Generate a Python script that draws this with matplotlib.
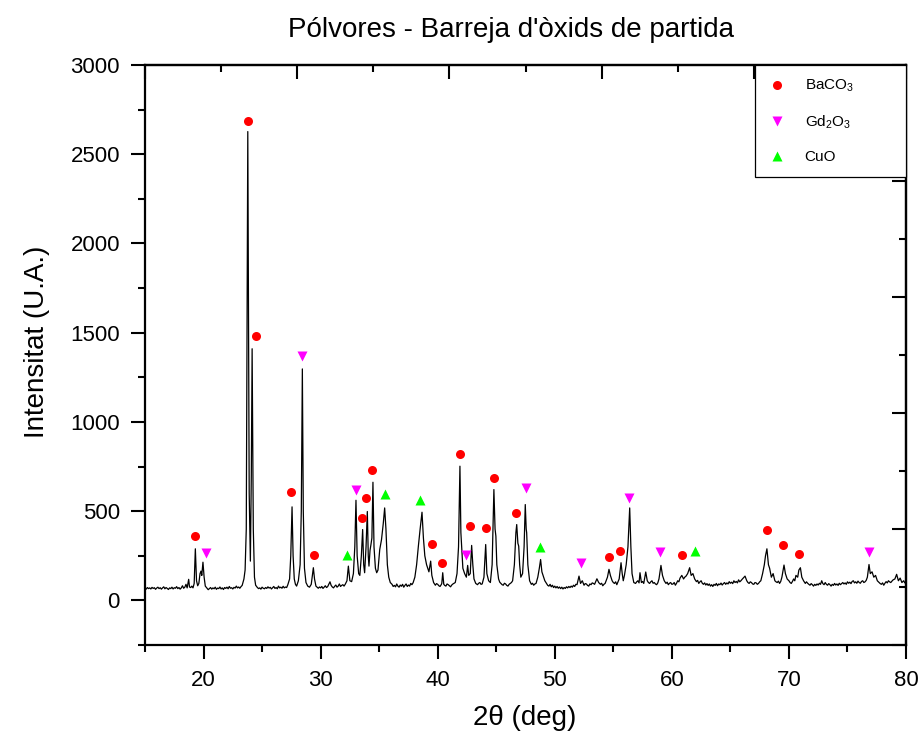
import matplotlib
matplotlib.use("Agg")
import matplotlib.pyplot as plt
from matplotlib.lines import Line2D
import numpy as np

plt.rcParams['font.family'] = ['Liberation Sans', 'DejaVu Sans']
plt.rcParams['mathtext.fontset'] = 'custom'
plt.rcParams['mathtext.rm'] = 'Liberation Sans'
plt.rcParams['mathtext.it'] = 'Liberation Sans:italic'
plt.rcParams['mathtext.bf'] = 'Liberation Sans:bold'

# Diffractogram, (2-theta [deg], intensity [a.u.]) pairs, split by angular range
scan_15_30 = [
    (15.0, 68), (15.1, 63), (15.2, 72), (15.3, 66), (15.4, 70), (15.5, 64), (15.6, 73),
    (15.7, 67), (15.8, 71), (15.9, 62), (16.0, 69), (16.1, 74), (16.2, 66), (16.3, 71),
    (16.4, 63), (16.5, 70), (16.6, 76), (16.7, 65), (16.8, 72), (16.9, 67), (17.0, 61),
    (17.1, 70), (17.2, 66), (17.3, 74), (17.4, 64), (17.5, 71), (17.6, 68), (17.7, 77),
    (17.8, 66), (17.9, 72), (18.0, 63), (18.1, 70), (18.2, 82), (18.3, 68), (18.4, 74),
    (18.5, 90), (18.6, 70), (18.73, 118), (18.8, 75), (18.9, 72), (19.0, 80), (19.1, 70),
    (19.2, 95), (19.3, 289), (19.4, 110), (19.5, 82), (19.6, 95), (19.7, 150), (19.78, 164),
    (19.85, 140), (19.95, 214), (20.05, 130), (20.15, 80), (20.3, 68), (20.4, 60), (20.5, 66),
    (20.6, 72), (20.7, 63), (20.8, 70), (20.9, 65), (21.0, 74), (21.1, 62), (21.2, 69),
    (21.3, 66), (21.4, 75), (21.5, 64), (21.6, 70), (21.7, 61), (21.8, 72), (21.9, 67),
    (22.0, 74), (22.1, 65), (22.2, 78), (22.3, 68), (22.4, 71), (22.5, 64), (22.6, 73),
    (22.7, 69), (22.8, 80), (22.9, 70), (23.0, 75), (23.1, 68), (23.2, 77), (23.3, 84),
    (23.45, 120), (23.55, 170), (23.65, 400), (23.78, 2627), (23.9, 600), (24.0, 220),
    (24.08, 700), (24.15, 1410), (24.25, 400), (24.35, 130), (24.45, 85), (24.6, 72),
    (24.7, 66), (24.8, 70), (24.9, 63), (25.0, 74), (25.1, 68), (25.2, 65), (25.3, 72),
    (25.4, 67), (25.5, 76), (25.6, 69), (25.7, 73), (25.8, 64), (25.9, 71), (26.0, 78),
    (26.1, 67), (26.2, 72), (26.3, 65), (26.4, 80), (26.5, 70), (26.6, 74), (26.7, 68),
    (26.8, 79), (26.9, 70), (27.0, 75), (27.1, 72), (27.2, 88), (27.35, 120), (27.45, 250),
    (27.56, 524), (27.65, 250), (27.75, 120), (27.85, 90), (27.95, 80), (28.1, 110),
    (28.25, 200), (28.35, 500), (28.44, 1297), (28.52, 500), (28.62, 180), (28.75, 100),
    (28.9, 80), (29.05, 74), (29.2, 90), (29.3, 140), (29.38, 183), (29.48, 120), (29.6, 80),
    (29.7, 74), (29.8, 68), (29.9, 75),
]
scan_30_50 = [
    (30.0, 70), (30.1, 78), (30.2, 67), (30.3, 74), (30.4, 82), (30.5, 72), (30.6, 77),
    (30.7, 90), (30.8, 104), (30.9, 84), (31.0, 75), (31.1, 70), (31.2, 79), (31.3, 86),
    (31.4, 74), (31.5, 80), (31.6, 92), (31.7, 78), (31.8, 84), (31.9, 88), (32.0, 80),
    (32.1, 90), (32.25, 110), (32.37, 192), (32.5, 110), (32.65, 105), (32.8, 150),
    (32.92, 300), (33.02, 561), (33.12, 250), (33.25, 150), (33.35, 140), (33.48, 250),
    (33.59, 397), (33.68, 200), (33.76, 155), (33.88, 300), (33.99, 498), (34.07, 250),
    (34.13, 192), (34.22, 280), (34.3, 313), (34.38, 350), (34.47, 662), (34.56, 300),
    (34.68, 180), (34.79, 155), (34.9, 170), (35.05, 285), (35.2, 340), (35.35, 430),
    (35.47, 518), (35.58, 400), (35.7, 200), (35.82, 130), (35.95, 100), (36.1, 90),
    (36.2, 78), (36.3, 84), (36.4, 76), (36.5, 92), (36.6, 80), (36.7, 74), (36.8, 86),
    (36.9, 79), (37.0, 90), (37.1, 74), (37.2, 84), (37.3, 92), (37.4, 78), (37.5, 86),
    (37.6, 80), (37.7, 95), (37.8, 88), (37.9, 99), (38.05, 130), (38.2, 200), (38.35, 304),
    (38.5, 400), (38.66, 494), (38.78, 350), (38.9, 250), (39.05, 200), (39.15, 180),
    (39.25, 160), (39.4, 220), (39.5, 140), (39.65, 100), (39.8, 85), (39.9, 94), (40.0, 90),
    (40.1, 82), (40.2, 78), (40.3, 88), (40.35, 95), (40.43, 155), (40.52, 90), (40.6, 84),
    (40.7, 80), (40.8, 92), (40.9, 88), (41.0, 82), (41.1, 76), (41.2, 86), (41.3, 92),
    (41.4, 96), (41.5, 100), (41.65, 150), (41.78, 300), (41.9, 752), (41.98, 380),
    (42.05, 300), (42.15, 180), (42.3, 150), (42.45, 130), (42.56, 196), (42.65, 140),
    (42.78, 150), (42.9, 308), (43.0, 200), (43.1, 120), (43.25, 95), (43.4, 88), (43.5, 96),
    (43.6, 100), (43.7, 90), (43.8, 92), (43.95, 130), (44.1, 313), (44.2, 150), (44.35, 110),
    (44.5, 100), (44.65, 200), (44.8, 621), (44.9, 400), (44.97, 360), (45.05, 200),
    (45.2, 120), (45.3, 102), (45.4, 95), (45.5, 88), (45.6, 85), (45.7, 96), (45.8, 92),
    (45.9, 84), (46.0, 80), (46.1, 90), (46.2, 95), (46.3, 100), (46.4, 110), (46.55, 200),
    (46.68, 380), (46.75, 425), (46.85, 320), (46.92, 304), (47.0, 200), (47.1, 130),
    (47.25, 150), (47.38, 300), (47.48, 537), (47.56, 400), (47.6, 379), (47.7, 200),
    (47.85, 110), (48.0, 90), (48.1, 96), (48.2, 85), (48.3, 92), (48.4, 95), (48.55, 130),
    (48.68, 180), (48.79, 229), (48.9, 160), (49.0, 140), (49.15, 110), (49.3, 95),
    (49.4, 84), (49.5, 80), (49.6, 90), (49.7, 76), (49.8, 85), (49.9, 72),
]
scan_50_80 = [
    (50.0, 80), (50.1, 70), (50.2, 78), (50.3, 68), (50.4, 75), (50.5, 66), (50.6, 74),
    (50.7, 64), (50.8, 72), (50.9, 67), (51.0, 76), (51.1, 70), (51.2, 78), (51.3, 72),
    (51.4, 80), (51.5, 74), (51.6, 85), (51.7, 78), (51.8, 90), (51.9, 88), (52.07, 136),
    (52.2, 95), (52.35, 110), (52.5, 85), (52.6, 94), (52.7, 92), (52.8, 84), (52.9, 80),
    (53.0, 92), (53.1, 88), (53.2, 98), (53.3, 95), (53.4, 90), (53.5, 105), (53.6, 121),
    (53.75, 100), (53.9, 90), (54.0, 96), (54.1, 82), (54.2, 90), (54.3, 95), (54.5, 130),
    (54.63, 174), (54.75, 140), (54.9, 110), (55.0, 100), (55.1, 95), (55.2, 104), (55.3, 88),
    (55.5, 120), (55.66, 211), (55.76, 150), (55.85, 110), (55.95, 140), (56.1, 200),
    (56.25, 300), (56.4, 518), (56.5, 300), (56.6, 150), (56.75, 100), (56.9, 95), (57.0, 104),
    (57.1, 110), (57.2, 98), (57.28, 155), (57.4, 100), (57.5, 106), (57.6, 95), (57.77, 159),
    (57.9, 110), (58.0, 100), (58.1, 95), (58.2, 104), (58.3, 110), (58.4, 96), (58.5, 100),
    (58.6, 92), (58.7, 88), (58.8, 98), (58.9, 120), (59.07, 196), (59.2, 140), (59.35, 110),
    (59.5, 95), (59.6, 102), (59.7, 88), (59.8, 96), (59.9, 100), (60.0, 90), (60.1, 92),
    (60.2, 100), (60.3, 85), (60.4, 96), (60.5, 110), (60.6, 104), (60.7, 125), (60.85, 140),
    (61.0, 120), (61.1, 130), (61.2, 135), (61.35, 150), (61.52, 183), (61.65, 140),
    (61.8, 150), (61.95, 120), (62.1, 105), (62.2, 112), (62.3, 95), (62.4, 104), (62.5, 110),
    (62.6, 96), (62.7, 90), (62.8, 98), (62.9, 86), (63.0, 94), (63.1, 84), (63.2, 92),
    (63.3, 80), (63.4, 88), (63.5, 78), (63.6, 90), (63.7, 84), (63.8, 95), (63.9, 82),
    (64.0, 92), (64.1, 88), (64.2, 97), (64.3, 86), (64.4, 94), (64.5, 100), (64.6, 90),
    (64.7, 98), (64.8, 92), (64.9, 105), (65.0, 96), (65.1, 102), (65.2, 94), (65.3, 110),
    (65.4, 100), (65.5, 106), (65.6, 98), (65.7, 115), (65.8, 104), (65.9, 110), (66.0, 118),
    (66.1, 125), (66.25, 136), (66.4, 110), (66.5, 100), (66.6, 95), (66.7, 104), (66.8, 100),
    (66.9, 92), (67.0, 90), (67.1, 100), (67.2, 98), (67.3, 90), (67.4, 95), (67.5, 104),
    (67.6, 110), (67.75, 150), (67.9, 200), (68.0, 250), (68.12, 289), (68.25, 200),
    (68.35, 180), (68.5, 130), (68.65, 150), (68.8, 110), (68.9, 104), (69.0, 100),
    (69.1, 108), (69.2, 95), (69.3, 106), (69.4, 130), (69.58, 198), (69.7, 150), (69.85, 120),
    (70.0, 110), (70.1, 100), (70.2, 95), (70.3, 106), (70.4, 120), (70.5, 110), (70.6, 140),
    (70.75, 130), (70.85, 170), (70.98, 183), (71.1, 130), (71.25, 110), (71.4, 95),
    (71.5, 104), (71.6, 96), (71.7, 90), (71.8, 85), (71.9, 94), (72.0, 88), (72.1, 80),
    (72.2, 90), (72.3, 84), (72.4, 92), (72.5, 86), (72.6, 96), (72.7, 90), (72.8, 110),
    (72.9, 94), (73.0, 88), (73.1, 100), (73.2, 90), (73.3, 85), (73.4, 94), (73.5, 88),
    (73.6, 80), (73.7, 90), (73.8, 84), (73.9, 95), (74.0, 86), (74.1, 92), (74.2, 84),
    (74.3, 96), (74.4, 88), (74.5, 94), (74.6, 100), (74.7, 92), (74.8, 98), (74.9, 90),
    (75.0, 104), (75.1, 96), (75.2, 102), (75.3, 94), (75.4, 106), (75.5, 110), (75.6, 98),
    (75.7, 104), (75.8, 96), (75.9, 108), (76.0, 100), (76.1, 96), (76.2, 106), (76.3, 110),
    (76.4, 100), (76.5, 104), (76.6, 112), (76.7, 130), (76.84, 201), (76.95, 150),
    (77.1, 160), (77.25, 130), (77.4, 140), (77.55, 110), (77.7, 100), (77.8, 94), (77.9, 90),
    (78.0, 98), (78.1, 85), (78.2, 96), (78.3, 105), (78.4, 98), (78.5, 110), (78.6, 104),
    (78.7, 100), (78.8, 108), (78.9, 115), (79.05, 120), (79.2, 146), (79.35, 110),
    (79.5, 125), (79.65, 100), (79.8, 110), (79.9, 98), (80.0, 105),
]

# Phase identification markers
baco3_x = [19.27, 23.80, 24.48, 27.5, 29.43, 33.5, 33.87, 34.42, 39.48, 40.4, 41.88,
           42.73, 44.12, 44.85, 46.69, 54.6, 55.6, 60.84, 68.12, 69.52, 70.89]
baco3_y = [360, 2686, 1481, 608, 252, 461, 573, 729, 317, 211, 823,
           416, 403, 683, 489, 241, 278, 254, 392, 310, 261]
gd2o3_x = [20.18, 28.44, 33.0, 42.39, 47.55, 52.21, 56.34, 59.0, 76.84]
gd2o3_y = [267, 1371, 617, 252, 628, 207, 576, 269, 272]
cuo_x = [32.28, 35.53, 38.49, 48.76, 61.95]
cuo_y = [256, 595, 563, 300, 278]

phase_labels = ['BaCO$_3$', 'Gd$_2$O$_3$', 'CuO']

scan = scan_15_30 + scan_30_50 + scan_50_80
two_theta = [p[0] for p in scan]
intensity = [p[1] for p in scan]

fig = plt.figure(figsize=(9.21, 7.33), dpi=100)
ax = fig.add_axes([145 / 921, 88 / 733, 761 / 921, 580 / 733])

ax.plot(two_theta, intensity, color='black', lw=0.9, zorder=2)
ax.plot(baco3_x, baco3_y, 'o', color='#ff0000', ms=6.5, mec='none', zorder=3)
ax.plot(gd2o3_x, gd2o3_y, 'v', color='#ff00ff', ms=7, mec='none', zorder=3)
ax.plot(cuo_x, cuo_y, '^', color='#00ff00', ms=7, mec='none', zorder=3)

ax.set_xlim(15, 80)
ax.set_ylim(-250, 3000)
ax.set_xticks(np.arange(20, 81, 10))
ax.set_xticks(np.arange(15, 81, 5), minor=True)
ax.set_yticks(np.arange(0, 3001, 500))
ax.set_yticks(np.arange(-250, 3001, 250), minor=True)
ax.tick_params(which='major', direction='out', length=10, width=1.5, labelsize=16, pad=8)
ax.tick_params(which='minor', direction='out', length=5, width=1.5)
for s in ax.spines.values():
    s.set_linewidth(1.6)

# mirrored axes with their own tick divisions
top = ax.secondary_xaxis('top')
top.set_xticks([15, 28, 41, 54, 67, 80])
top.set_xticks([21.5, 34.5, 47.5, 60.5, 73.5], minor=True)
top.tick_params(which='major', direction='in', length=10, width=1.5, labeltop=False)
top.tick_params(which='minor', direction='in', length=5, width=1.5)
top.spines['top'].set_linewidth(1.6)

right = ax.secondary_yaxis('right')
right.set_yticks([-250, 400, 1050, 1700, 2350, 3000])
right.set_yticks([75, 725, 1375, 2025, 2675], minor=True)
right.tick_params(which='major', direction='in', length=10, width=1.5, labelright=False)
right.tick_params(which='minor', direction='in', length=5, width=1.5)
right.spines['right'].set_linewidth(1.6)

handles = [
    Line2D([], [], ls='none', marker='o', color='#ff0000', mec='none', ms=6.5),
    Line2D([], [], ls='none', marker='v', color='#ff00ff', mec='none', ms=7),
    Line2D([], [], ls='none', marker='^', color='#00ff00', mec='none', ms=7),
]
leg = ax.legend(handles, phase_labels, loc='upper right', mode='expand',
                bbox_to_anchor=(610 / 761, 0.5, 151 / 761, 0.5),
                fontsize=11, frameon=True, fancybox=False, framealpha=1,
                borderaxespad=0, borderpad=0.85, labelspacing=1.25,
                handlelength=1.2, handletextpad=1.2)
leg.get_frame().set_edgecolor('black')
leg.get_frame().set_linewidth(0.9)

fig.text(511 / 921, 1 - 30 / 733, "Pólvores - Barreja d'òxids de partida",
         ha='center', va='center', fontsize=20)
fig.text(525 / 921, 1 - 718 / 733, "2θ (deg)", ha='center', va='center', fontsize=20)
fig.text(37 / 921, 1 - 342 / 733, "Intensitat (U.A.)", ha='center', va='center',
         rotation=90, fontsize=20)

fig.savefig('out.png', dpi=100)
